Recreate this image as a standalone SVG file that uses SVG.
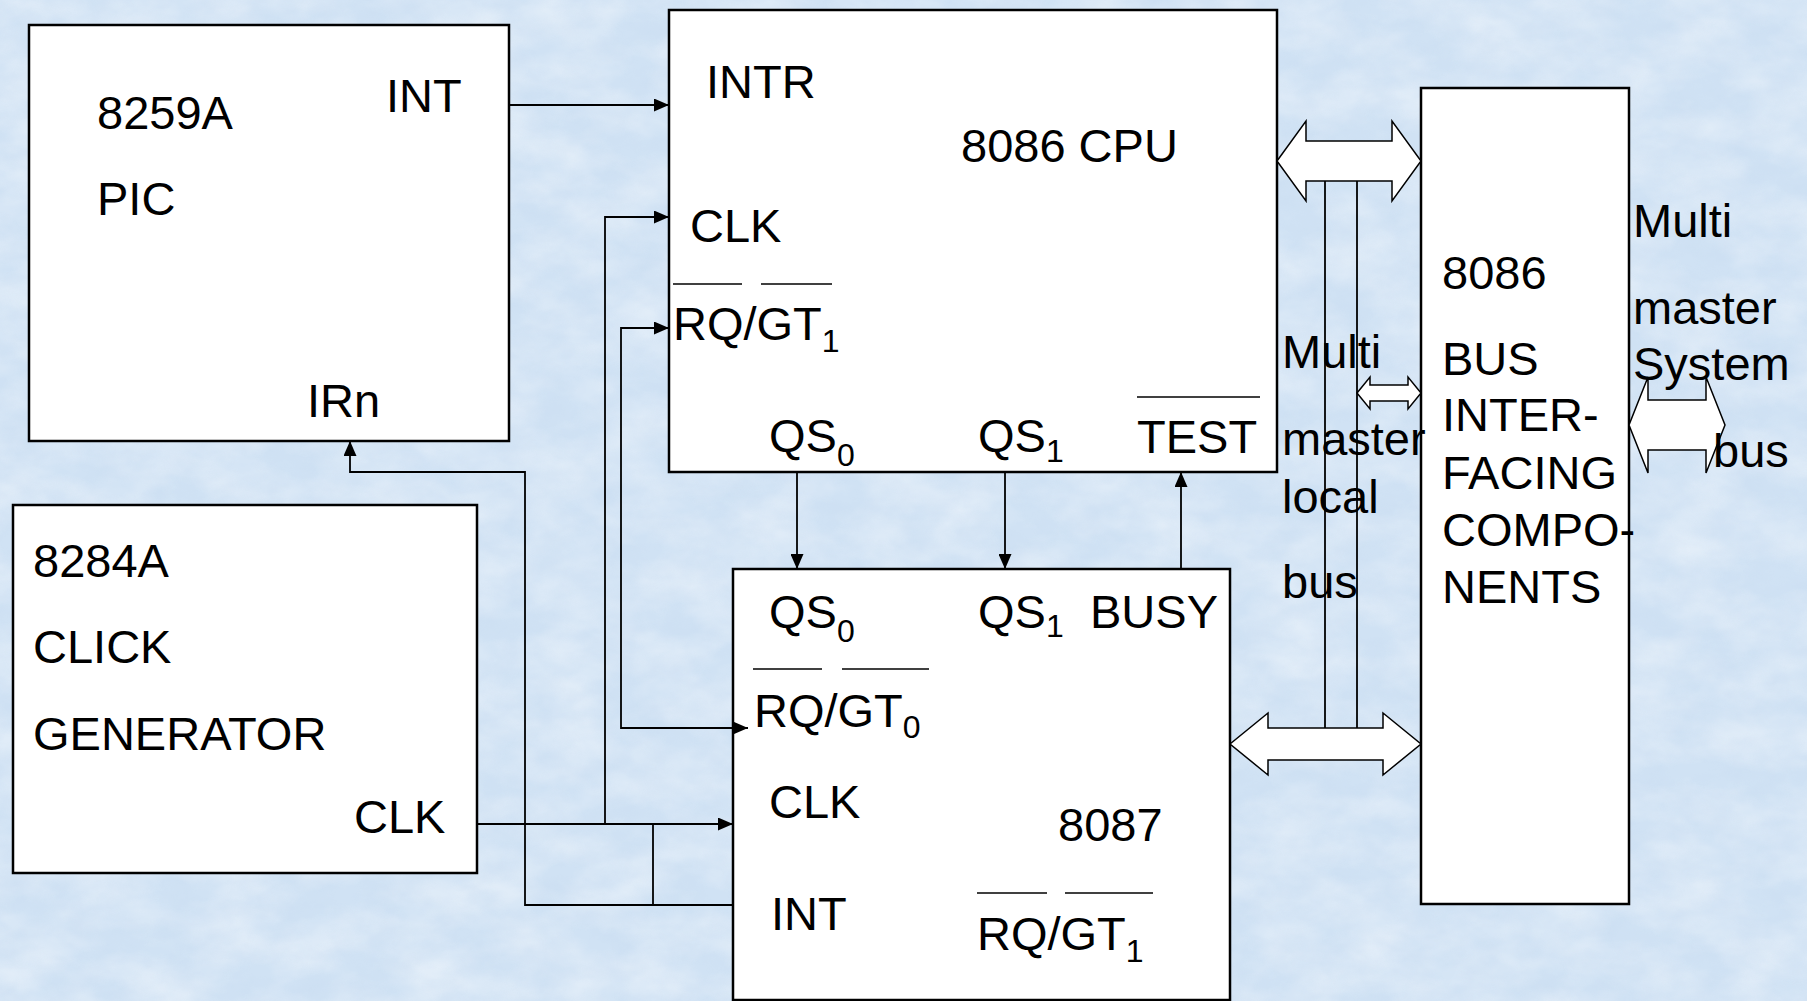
<svg xmlns="http://www.w3.org/2000/svg" width="1807" height="1001" viewBox="0 0 1807 1001">
<defs>
<style>
.bg{fill:#d0e2f4}
.box{fill:#ffffff;stroke:#000;stroke-width:2.5}
.t{font-family:"Liberation Sans",Arial,sans-serif;font-size:47px;fill:#000}
.s{font-size:32px}
.ln{fill:none;stroke:#000;stroke-width:1.8}
.ov{stroke:#000;stroke-width:1.5}
.bus{fill:#fff;stroke:#000;stroke-width:1.5;stroke-linejoin:miter}
</style>
<marker id="ah" markerUnits="userSpaceOnUse" markerWidth="15" markerHeight="13" refX="15" refY="6.5" orient="auto">
<path d="M0,0 L15,6.5 L0,13 Z" fill="#000"/>
</marker>
<filter id="tex" x="0" y="0" width="100%" height="100%">
<feTurbulence type="fractalNoise" baseFrequency="0.015 0.025" numOctaves="4" seed="7" result="n"/>
<feColorMatrix in="n" type="matrix" values="0 0 0 0 1  0 0 0 0 1  0 0 0 0 1  1.6 0 0 0 -0.5"/>
</filter>
<filter id="tex2" x="0" y="0" width="100%" height="100%">
<feTurbulence type="fractalNoise" baseFrequency="0.03 0.05" numOctaves="3" seed="21" result="n"/>
<feColorMatrix in="n" type="matrix" values="0 0 0 0 0.55  0 0 0 0 0.68  0 0 0 0 0.85  1.6 0 0 0 -0.55"/>
</filter>
</defs>
<rect class="bg" x="0" y="0" width="1807" height="1001"/>
<rect x="0" y="0" width="1807" height="1001" fill="#fff" filter="url(#tex)" opacity="0.45"/>
<rect x="0" y="0" width="1807" height="1001" fill="#fff" filter="url(#tex2)" opacity="0.25"/>

<g id="pic">
<rect class="box" x="29" y="25" width="480" height="416"/>
<text class="t" x="97" y="129">8259A</text>
<text class="t" x="386" y="112">INT</text>
<text class="t" x="97" y="215">PIC</text>
<text class="t" x="307" y="417">IRn</text>
</g>

<g id="clockgen">
<rect class="box" x="13" y="505" width="464" height="368"/>
<text class="t" x="33" y="577">8284A</text>
<text class="t" x="33" y="663">CLICK</text>
<text class="t" x="33" y="750">GENERATOR</text>
<text class="t" x="354" y="833">CLK</text>
</g>

<g id="cpu">
<rect class="box" x="669" y="10" width="608" height="462"/>
<text class="t" x="706" y="98">INTR</text>
<text class="t" x="961" y="162">8086 CPU</text>
<text class="t" x="690" y="242">CLK</text>
<line class="ov" x1="673" y1="284" x2="742" y2="284"/>
<line class="ov" x1="761" y1="284" x2="832" y2="284"/>
<text class="t" x="673" y="340">RQ/GT<tspan class="s" dy="12">1</tspan></text>
<text class="t" x="769" y="452">QS<tspan class="s" dy="14">0</tspan></text>
<text class="t" x="978" y="452">QS<tspan class="s" dy="10">1</tspan></text>
<line class="ov" x1="1137" y1="397" x2="1260" y2="397"/>
<text class="t" x="1137" y="453">TEST</text>
</g>

<g id="coproc">
<rect class="box" x="733" y="569" width="497" height="431"/>
<text class="t" x="769" y="628">QS<tspan class="s" dy="14">0</tspan></text>
<text class="t" x="978" y="628">QS<tspan class="s" dy="9">1</tspan></text>
<text class="t" x="1090" y="628">BUSY</text>
<line class="ov" x1="753" y1="669" x2="822" y2="669"/>
<line class="ov" x1="842" y1="669" x2="929" y2="669"/>
<text class="t" x="754" y="727">RQ/GT<tspan class="s" dy="11">0</tspan></text>
<text class="t" x="769" y="818">CLK</text>
<text class="t" x="1058" y="841">8087</text>
<text class="t" x="771" y="930">INT</text>
<line class="ov" x1="977" y1="893" x2="1047" y2="893"/>
<line class="ov" x1="1065" y1="893" x2="1153" y2="893"/>
<text class="t" x="977" y="950">RQ/GT<tspan class="s" dy="12">1</tspan></text>
</g>

<g id="businterface">
<rect class="box" x="1421" y="88" width="208" height="816"/>
<text class="t" x="1442" y="289">8086</text>
<text class="t" x="1442" y="375">BUS</text>
<text class="t" x="1442" y="431">INTER-</text>
<text class="t" x="1442" y="489">FACING</text>
<text class="t" x="1442" y="546">COMPO-</text>
<text class="t" x="1442" y="603">NENTS</text>
</g>

<g id="connectors">
<path class="ln" d="M509,105 H669" marker-end="url(#ah)"/>
<path class="ln" d="M477,824 H733" marker-end="url(#ah)"/>
<path class="ln" d="M605,824 V217 H669" marker-end="url(#ah)"/>
<path class="ln" d="M669,328 H621 V728 H748" marker-end="url(#ah)"/>
<path class="ln" d="M648,328 H669" marker-end="url(#ah)"/>
<path class="ln" d="M733,905 H525 V472 H350 V441" marker-end="url(#ah)"/>
<path class="ln" d="M653,824 V905"/>
<path class="ln" d="M797,472 V569" marker-end="url(#ah)"/>
<path class="ln" d="M1005,472 V569" marker-end="url(#ah)"/>
<path class="ln" d="M1181,569 V472" marker-end="url(#ah)"/>
<path class="ln" d="M1325,181 V728"/>
<path class="ln" d="M1357,181 V728"/>
<polygon class="bus" points="1277,161 1306,121 1306,141 1392,141 1392,121 1421,161 1392,201 1392,181 1306,181 1306,201"/>
<polygon class="bus" points="1230,744 1268,713 1268,728 1383,728 1383,713 1421,744 1383,775 1383,760 1268,760 1268,775"/>
<polygon class="bus" points="1357,393 1370,377 1370,385 1408,385 1408,377 1421,393 1408,409 1408,401 1370,401 1370,409"/>
<polygon class="bus" points="1629,425 1648,377 1648,400 1706,400 1706,377 1725,425 1706,473 1706,450 1648,450 1648,473"/>
</g>

<g id="buslabels">
<text class="t" x="1282" y="368">Multi</text>
<text class="t" x="1282" y="455">master</text>
<text class="t" x="1282" y="513">local</text>
<text class="t" x="1282" y="598">bus</text>
<text class="t" x="1633" y="237">Multi</text>
<text class="t" x="1633" y="324">master</text>
<text class="t" x="1633" y="380">System</text>
<text class="t" x="1713" y="467">bus</text>
</g>
</svg>
